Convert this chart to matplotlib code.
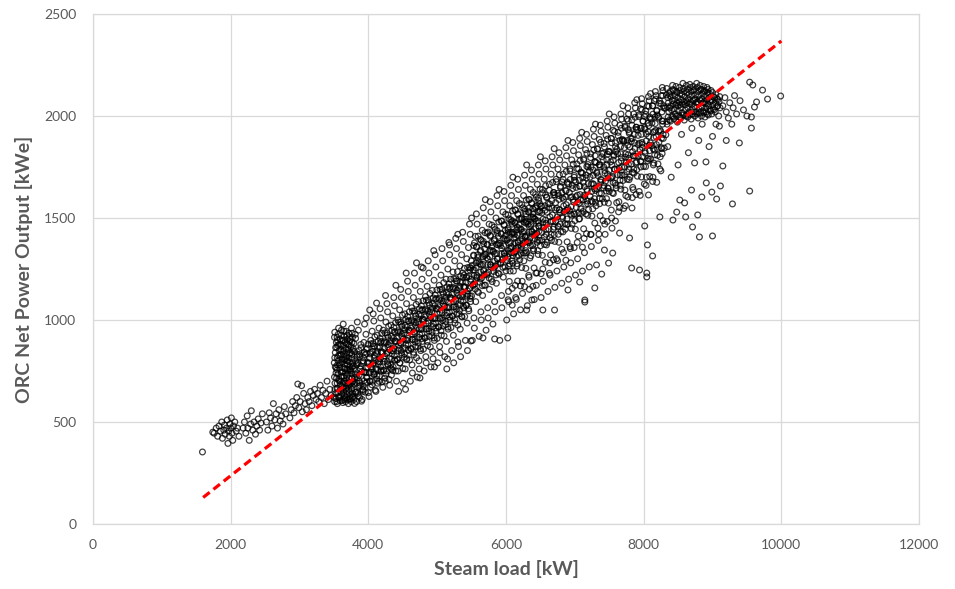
import matplotlib
matplotlib.use("Agg")
import matplotlib.pyplot as plt

# ---------------- data ----------------
x_ticks = [0, 2000, 4000, 6000, 8000, 10000, 12000]
y_ticks = [0, 500, 1000, 1500, 2000, 2500]
x_label = "Steam load [kW]"
y_label = "ORC Net Power Output [kWe]"

# linear fit (red dashed line)
fit_x = [1600, 10000]
fit_y = [130, 2368]

# sparse low-load points
low_load = [(1590,353),
 (1740,450),(1760,445),(1790,470),(1810,430),(1830,480),(1850,455),(1870,500),(1880,420),(1900,460),
 (1910,485),(1920,440),(1940,470),(1950,510),(1960,395),(1970,455),(1980,430),(1990,490),(2000,470),
 (2010,520),(2020,445),(2030,410),(2040,480),(2060,500),(2080,455),(2100,470),(2120,430),
 (2180,470),(2200,500),(2220,445),(2240,530),(2250,470),(2270,410),(2290,490),(2300,555),(2320,460),
 (2340,500),(2360,440),(2380,480),(2400,515),(2420,460),(2440,495),(2460,540),
 (2520,500),(2540,460),(2560,545),(2580,520),(2600,480),(2620,590),(2640,510),(2660,540),(2680,470),
 (2700,560),(2720,505),(2740,530),(2760,490),(2780,575),(2800,540),
 (2860,520),(2880,560),(2900,600),(2920,545),(2940,580),(2960,620),(2975,686),(2990,570),(3010,600),
 (3030,678),(3040,550),(3060,640),(3080,590),(3100,560),(3120,620),(3140,600),(3160,650),(3180,580),
 (3200,630),(3220,660),(3240,610),(3260,640),(3280,600),(3300,680),(3320,620),(3340,655),(3360,590),
 (3380,640),(3400,700),(3420,610),(3440,660),(3460,630)]

# dense "wall" at ~3500-3800 kW
wall = [(3510,600),(3525,640),(3515,690),(3530,740),(3505,790),(3520,840),(3535,890),(3512,940),
 (3550,590),(3565,625),(3555,665),(3570,710),(3545,755),(3560,800),(3575,850),(3552,900),(3568,960),
 (3590,605),(3610,640),(3595,680),(3605,720),(3585,765),(3615,810),(3600,855),(3590,905),(3610,950),
 (3630,595),(3650,630),(3635,670),(3645,700),(3625,745),(3655,785),(3640,830),(3630,875),(3650,920),(3635,980),
 (3670,600),(3690,635),(3675,665),(3685,705),(3665,740),(3695,780),(3680,820),(3670,860),(3690,905),(3675,945),
 (3710,590),(3730,625),(3715,660),(3725,695),(3705,735),(3735,770),(3720,815),(3710,855),(3730,895),(3715,935),
 (3750,600),(3770,640),(3755,675),(3765,715),(3745,750),(3775,790),(3760,830),(3750,870),(3770,915),(3755,960),
 (3790,610),(3810,645),(3795,685),(3805,720),(3785,760),(3815,800),(3800,845),(3790,885),(3810,930),
 (3530,615),(3545,665),(3538,715),(3533,765),(3548,815),(3541,865),(3546,915),(3580,620),(3577,700),
 (3582,780),(3586,830),(3574,880),(3620,605),(3626,660),(3618,725),(3622,795),(3627,845),(3619,900),
 (3660,615),(3663,690),(3658,760),(3667,810),(3661,890),(3698,610),(3703,680),(3697,755),(3702,800),
 (3699,880),(3741,615),(3746,690),(3738,760),(3743,840),(3739,905),(3781,625),(3778,700),(3783,775),(3779,860),
 (3505,620),(3515,660),(3508,720),(3520,770),(3512,815),(3525,865),(3508,915),(3540,600),(3555,645),
 (3548,690),(3560,735),(3552,780),(3565,825),(3558,875),(3562,930),(3592,625),(3600,660),(3594,700),
 (3608,745),(3598,790),(3606,830),(3596,880),(3604,925),(3640,610),(3645,650),(3638,690),(3648,725),
 (3642,765),(3650,805),(3644,850),(3640,900),(3645,945),(3685,620),(3680,650),(3690,690),(3684,725),
 (3688,760),(3682,800),(3686,840),(3680,885),(3692,925),(3725,610),(3720,645),(3728,680),(3722,715),
 (3730,755),(3724,795),(3728,835),(3722,875),(3726,915),(3765,620),(3760,660),(3768,695),(3762,735),
 (3766,770),(3760,810),(3768,850),(3762,890),(3765,935)]

# main band 3800-8300 kW (wide spread)
band = [
 (3830,600),(3845,640),(3860,675),(3870,700),(3825,730),(3880,760),(3850,790),(3835,820),(3865,850),(3890,880),(3815,910),(3855,950),(3875,620),(3840,990),
 (3910,610),(3925,650),(3960,690),(3975,720),(3940,745),(3990,770),(3920,800),(3955,830),(3985,860),(3935,890),(3965,930),(3945,980),(3915,660),(3970,1010),
 (4010,625),(4030,670),(4060,700),(4085,735),(4045,760),(4075,790),(4020,815),(4065,845),(4090,870),(4035,900),(4055,945),(4080,995),(4015,740),(4070,1030),
 (4110,650),(4135,690),(4160,725),(4185,755),(4145,785),(4175,810),(4120,835),(4165,865),(4190,895),(4130,925),(4155,960),(4180,1010),(4115,760),(4170,1055),
 (4210,670),(4240,715),(4265,750),(4285,780),(4225,810),(4275,840),(4230,860),(4260,890),(4290,915),(4215,950),(4255,990),(4280,1040),(4245,700),(4270,1080),
 (4310,680),(4335,730),(4360,770),(4385,805),(4345,835),(4375,860),(4320,885),(4365,910),(4390,940),(4330,975),(4355,1020),(4380,1070),(4340,760),(4370,1110),
 (4410,700),(4435,750),(4460,790),(4485,830),(4445,860),(4475,885),(4420,910),(4465,940),(4490,970),(4430,1000),(4455,1050),(4480,1110),(4440,650),(4470,1150),
 (4510,690),(4535,760),(4560,810),(4585,850),(4545,880),(4575,910),(4520,935),(4565,965),(4590,995),(4530,1030),(4555,1080),(4580,1140),(4540,660),(4570,1190),
 (4610,700),(4635,780),(4660,830),(4685,870),(4645,905),(4675,935),(4620,960),(4665,990),(4690,1020),(4630,1060),(4655,1110),(4680,1170),(4640,740),(4670,1230),
 (4710,720),(4735,800),(4760,850),(4785,895),(4745,930),(4775,960),(4720,990),(4765,1020),(4790,1050),(4730,1090),(4755,1140),(4780,1200),(4740,760),(4770,1260),
 (4810,750),(4835,820),(4860,875),(4885,920),(4845,955),(4875,985),(4820,1015),(4865,1045),(4890,1075),(4830,1115),(4855,1165),(4880,1230),(4840,790),(4870,1290),
 (4910,770),(4935,845),(4960,900),(4985,945),(4945,980),(4975,1010),(4920,1040),(4965,1070),(4990,1105),(4930,1145),(4955,1195),(4980,1260),(4940,810),(4970,1320),
 (5010,790),(5035,870),(5060,925),(5085,970),(5045,1005),(5075,1035),(5020,1065),(5065,1095),(5090,1130),(5030,1170),(5055,1220),(5080,1290),(5040,840),(5070,1350),
 (5110,820),(5135,895),(5160,955),(5185,1000),(5145,1035),(5175,1065),(5120,1095),(5165,1125),(5190,1160),(5130,1200),(5155,1250),(5180,1320),(5140,760),(5170,1380),
 (5210,850),(5235,925),(5260,985),(5285,1030),(5245,1065),(5275,1095),(5220,1125),(5265,1155),(5290,1190),(5230,1235),(5255,1290),(5280,1350),(5240,790),(5270,1400),
 (5310,870),(5335,955),(5360,1015),(5385,1060),(5345,1095),(5375,1125),(5320,1155),(5365,1185),(5390,1220),(5330,1265),(5355,1320),(5380,1385),(5340,820),(5370,1430),
 (5410,900),(5435,985),(5460,1045),(5485,1090),(5445,1125),(5475,1155),(5420,1185),(5465,1215),(5490,1255),(5430,1300),(5455,1355),(5480,1420),(5440,850),(5470,1470),
 (5510,900),(5535,1010),(5560,1090),(5585,1140),(5545,1175),(5575,1210),(5520,1245),(5565,1280),(5590,1320),(5530,1365),(5555,1410),(5580,1470),(5540,960),(5570,1520),
 (5610,920),(5635,1040),(5660,1120),(5685,1170),(5645,1205),(5675,1240),(5620,1275),(5665,1310),(5690,1350),(5630,1395),(5655,1440),(5680,1500),(5640,1000),(5670,1550),
 (5710,950),(5735,1060),(5760,1150),(5785,1200),(5745,1235),(5775,1270),(5720,1305),(5765,1340),(5790,1380),(5730,1425),(5755,1470),(5780,1530),(5740,1010),(5770,1580),
 (5810,980),(5835,1090),(5860,1180),(5885,1230),(5845,1265),(5875,1300),(5820,1335),(5865,1370),(5890,1410),(5830,1455),(5855,1500),(5880,1560),(5840,1040),(5870,1610),
 (5910,900),(5935,1120),(5960,1210),(5985,1260),(5945,1295),(5975,1330),(5920,1365),(5965,1400),(5990,1440),(5930,1485),(5955,1530),(5980,1585),(5940,1060),(5970,1630),
 (6010,1000),(6035,1140),(6060,1240),(6085,1290),(6045,1325),(6075,1360),(6020,1395),(6065,1430),(6090,1470),(6030,1515),(6055,1560),(6080,1610),(6040,1090),(6070,1660),
 (6110,1030),(6135,1170),(6160,1265),(6185,1315),(6145,1350),(6175,1385),(6120,1420),(6165,1455),(6190,1495),(6130,1540),(6155,1585),(6180,1640),(6140,1110),(6170,1690),
 (6210,1050),(6235,1190),(6260,1290),(6285,1340),(6245,1375),(6275,1410),(6220,1445),(6265,1480),(6290,1520),(6230,1565),(6255,1610),(6280,1660),(6240,1130),(6270,1710),
 (6310,1070),(6335,1210),(6360,1315),(6385,1365),(6345,1400),(6375,1435),(6320,1470),(6365,1505),(6390,1545),(6330,1590),(6355,1640),(6380,1690),(6340,1150),(6370,1735),
 (6410,1100),(6435,1230),(6460,1340),(6485,1390),(6445,1425),(6475,1460),(6420,1495),(6465,1530),(6490,1570),(6430,1615),(6455,1665),(6480,1715),(6440,1170),(6470,1760),
 (6510,1110),(6535,1250),(6560,1370),(6585,1420),(6545,1455),(6575,1490),(6520,1525),(6565,1560),(6590,1600),(6530,1640),(6555,1690),(6580,1740),(6540,1190),(6570,1780),
 (6610,1140),(6635,1280),(6660,1390),(6685,1445),(6645,1480),(6675,1515),(6620,1550),(6665,1585),(6690,1625),(6630,1665),(6655,1715),(6680,1760),(6640,1220),(6670,1800),
 (6710,1160),(6735,1300),(6760,1420),(6785,1470),(6745,1505),(6775,1540),(6720,1575),(6765,1610),(6790,1650),(6730,1690),(6755,1740),(6780,1785),(6740,1240),(6770,1820),
 (6810,1180),(6835,1330),(6860,1445),(6885,1495),(6845,1530),(6875,1565),(6820,1600),(6865,1635),(6890,1675),(6830,1715),(6855,1760),(6880,1805),(6840,1260),(6870,1845),
 (6910,1200),(6935,1350),(6960,1470),(6985,1520),(6945,1555),(6975,1590),(6920,1625),(6965,1660),(6990,1700),(6930,1740),(6955,1785),(6980,1830),(6940,1280),(6970,1870),
 (7010,1220),(7035,1380),(7060,1495),(7085,1545),(7045,1580),(7075,1615),(7020,1650),(7065,1685),(7090,1725),(7030,1765),(7055,1810),(7080,1855),(7040,1300),(7070,1890),
 (7110,1240),(7135,1400),(7160,1520),(7185,1570),(7145,1605),(7175,1640),(7120,1675),(7165,1710),(7190,1750),(7130,1790),(7155,1835),(7180,1875),(7140,1330),(7170,1910),
 (7210,1260),(7235,1420),(7260,1545),(7285,1595),(7245,1630),(7275,1665),(7220,1700),(7265,1735),(7290,1775),(7230,1815),(7255,1860),(7280,1900),(7240,1360),(7270,1935),
 (7315,1270),(7335,1450),(7360,1570),(7385,1620),(7345,1655),(7375,1690),(7320,1725),(7365,1760),(7390,1800),(7330,1840),(7355,1885),(7380,1925),(7340,1390),(7370,1955),
 (7430,1343),(7435,1470),(7460,1595),(7485,1645),(7445,1680),(7475,1715),(7420,1750),(7465,1785),(7490,1825),(7425,1865),(7455,1905),(7480,1945),(7440,1420),(7470,1975),
 (7550,1328),(7535,1500),(7560,1620),(7585,1670),(7545,1705),(7575,1740),(7520,1775),(7565,1810),(7590,1850),(7530,1890),(7555,1930),(7580,1965),(7540,1450),(7570,1995),
 (7650,1426),(7635,1530),(7660,1660),(7685,1710),(7645,1745),(7675,1780),(7620,1815),(7665,1850),(7690,1885),(7630,1920),(7655,1955),(7680,1985),(7640,1580),(7670,2010),
 (7795,1402),(7735,1560),(7760,1690),(7785,1740),(7745,1775),(7775,1810),(7720,1845),(7765,1880),(7790,1915),(7730,1950),(7755,1985),(7780,2010),(7740,1610),(7770,2040),
 (7825,1255),(7835,1600),(7860,1720),(7885,1770),(7845,1805),(7875,1840),(7820,1875),(7865,1910),(7890,1945),(7830,1980),(7855,2010),(7880,2040),(7840,1650),(7870,2065),
 (7940,1245),(7935,1630),(7960,1750),(7985,1800),(7945,1835),(7975,1870),(7920,1905),(7965,1940),(7990,1975),(7930,2005),(7955,2035),(7980,2060),(8015,1461),(7970,2085),
 (8045,1230),(8035,1660),(8060,1780),(8085,1830),(8055,1368),(8075,1900),(8020,1935),(8065,1965),(8090,1995),(8030,2025),(8055,2050),(8080,2075),(8040,1700),(8070,2095),
 (8130,1314),(8135,1700),(8160,1810),(8185,1860),(8145,1895),(8175,1930),(8120,1965),(8165,1995),(8190,2025),(8130,2050),(8155,2075),(8180,2100),(8140,1760),(8170,2120),
 (8235,1505),(8235,1740),(8260,1840),(8285,1890),(8245,1925),(8275,1960),(8220,1990),(8265,2020),(8290,2050),(8230,2075),(8255,2100),(8280,2125),(8240,1800),(8270,2140)]

# dense core of the band
core = [
 (3800,591),(3820,646),(3835,691),(3810,736),(3828,781),(3842,831),
 (3855,629),(3880,679),(3865,729),(3890,774),(3875,819),(3895,864),
 (3900,602),(3920,657),(3935,702),(3910,747),(3928,792),(3942,842),
 (3955,646),(3980,696),(3965,741),(3990,791),(3975,836),(3995,881),
 (4000,644),(4020,699),(4035,744),(4010,789),(4028,834),(4042,884),
 (4055,682),(4080,732),(4065,782),(4090,827),(4075,872),(4095,917),
 (4100,656),(4120,711),(4135,756),(4110,801),(4128,846),(4142,896),
 (4155,699),(4180,749),(4165,794),(4190,844),(4175,889),(4195,934),
 (4200,697),(4220,752),(4235,797),(4210,842),(4228,887),(4242,937),
 (4255,735),(4280,785),(4265,835),(4290,880),(4275,925),(4295,970),
 (4300,709),(4320,764),(4335,809),(4310,854),(4328,899),(4342,949),
 (4355,752),(4380,802),(4365,847),(4390,897),(4375,942),(4395,987),
 (4400,750),(4420,805),(4435,850),(4410,895),(4428,940),(4442,990),
 (4455,789),(4480,839),(4465,889),(4490,934),(4475,979),(4495,1024),
 (4500,762),(4520,817),(4535,862),(4510,907),(4528,952),(4542,1002),
 (4555,805),(4580,855),(4565,900),(4590,950),(4575,995),(4595,1040),
 (4600,804),(4620,859),(4635,904),(4610,949),(4628,994),(4642,1044),
 (4655,842),(4680,892),(4665,942),(4690,987),(4675,1032),(4695,1077),
 (4700,815),(4720,870),(4735,915),(4710,960),(4728,1005),(4742,1055),
 (4755,859),(4780,909),(4765,954),(4790,1004),(4775,1049),(4795,1094),
 (4800,857),(4820,912),(4835,957),(4810,1002),(4828,1047),(4842,1097),
 (4855,895),(4880,945),(4865,995),(4890,1040),(4875,1085),(4895,1130),
 (4900,868),(4920,923),(4935,968),(4910,1013),(4928,1058),(4942,1108),
 (4955,912),(4980,962),(4965,1007),(4990,1057),(4975,1102),(4995,1147),
 (5000,910),(5020,965),(5035,1010),(5010,1055),(5028,1100),(5042,1150),
 (5055,948),(5080,998),(5065,1048),(5090,1093),(5075,1138),(5095,1183),
 (5100,922),(5120,977),(5135,1022),(5110,1067),(5128,1112),(5142,1162),
 (5155,965),(5180,1015),(5165,1060),(5190,1110),(5175,1155),(5195,1200),
 (5200,963),(5220,1018),(5235,1063),(5210,1108),(5228,1153),(5242,1203),
 (5255,1002),(5280,1052),(5265,1102),(5290,1147),(5275,1192),(5295,1237),
 (5300,975),(5320,1030),(5335,1075),(5310,1120),(5328,1165),(5342,1215),
 (5355,1018),(5380,1068),(5365,1113),(5390,1163),(5375,1208),(5395,1253),
 (5400,1017),(5420,1072),(5435,1117),(5410,1162),(5428,1207),(5442,1257),
 (5455,1055),(5480,1105),(5465,1155),(5490,1200),(5475,1245),(5495,1290),
 (5500,1118),(5520,1168),(5535,1218),(5510,1268),(5528,1318),(5542,1378),
 (5555,1151),(5580,1206),(5565,1256),(5590,1306),(5575,1361),(5595,1411),
 (5600,1135),(5620,1185),(5635,1235),(5610,1285),(5628,1335),(5642,1390),
 (5655,1168),(5680,1223),(5665,1273),(5690,1323),(5675,1373),(5695,1428),
 (5700,1171),(5720,1221),(5735,1271),(5710,1321),(5728,1371),(5742,1431),
 (5755,1205),(5780,1260),(5765,1310),(5790,1360),(5775,1415),(5795,1465),
 (5800,1188),(5820,1238),(5835,1288),(5810,1338),(5828,1388),(5842,1443),
 (5855,1221),(5880,1276),(5865,1326),(5890,1376),(5875,1426),(5895,1481),
 (5900,1225),(5920,1275),(5935,1325),(5910,1375),(5928,1425),(5942,1485),
 (5955,1258),(5980,1313),(5965,1363),(5990,1413),(5975,1468),(5995,1518),
 (6000,1241),(6020,1291),(6035,1341),(6010,1391),(6028,1441),(6042,1496),
 (6055,1275),(6080,1330),(6065,1380),(6090,1430),(6075,1480),(6095,1535),
 (6100,1278),(6120,1328),(6135,1378),(6110,1428),(6128,1478),(6142,1538),
 (6155,1311),(6180,1366),(6165,1416),(6190,1466),(6175,1521),(6195,1571),
 (6200,1295),(6220,1345),(6235,1395),(6210,1445),(6228,1495),(6242,1550),
 (6255,1328),(6280,1383),(6265,1433),(6290,1483),(6275,1533),(6295,1588),
 (6300,1331),(6320,1381),(6335,1431),(6310,1481),(6328,1531),(6342,1591),
 (6355,1365),(6380,1420),(6365,1470),(6390,1520),(6375,1575),(6395,1625),
 (6400,1348),(6420,1398),(6435,1448),(6410,1498),(6428,1548),(6442,1603),
 (6455,1381),(6480,1436),(6465,1486),(6490,1536),(6475,1586),(6495,1641),
 (6500,1364),(6522,1429),(6538,1494),(6512,1559),(6530,1624),
 (6556,1408),(6582,1473),(6568,1538),(6592,1603),(6576,1658),
 (6600,1381),(6622,1446),(6638,1506),(6612,1571),(6630,1636),
 (6656,1419),(6682,1484),(6668,1549),(6692,1614),(6676,1674),
 (6700,1418),(6722,1483),(6738,1548),(6712,1613),(6730,1678),
 (6756,1461),(6782,1526),(6768,1591),(6792,1656),(6776,1711),
 (6800,1434),(6822,1499),(6838,1559),(6812,1624),(6830,1689),
 (6856,1473),(6882,1538),(6868,1603),(6892,1668),(6876,1728),
 (6900,1471),(6922,1536),(6938,1601),(6912,1666),(6930,1731),
 (6956,1514),(6982,1579),(6968,1644),(6992,1709),(6976,1764),
 (7000,1487),(7022,1552),(7038,1612),(7012,1677),(7030,1742),
 (7056,1526),(7082,1591),(7068,1656),(7092,1721),(7076,1781),
 (7100,1524),(7122,1589),(7138,1654),(7112,1719),(7130,1784),
 (7156,1567),(7182,1632),(7168,1697),(7192,1762),(7176,1817),
 (7200,1541),(7222,1606),(7238,1666),(7212,1731),(7230,1796),
 (7256,1579),(7282,1644),(7268,1709),(7292,1774),(7276,1834),
 (7300,1577),(7322,1642),(7338,1707),(7312,1772),(7330,1837),
 (7356,1621),(7382,1686),(7368,1751),(7392,1816),(7376,1871),
 (7400,1594),(7422,1659),(7438,1719),(7412,1784),(7430,1849),
 (7456,1632),(7482,1697),(7468,1762),(7492,1827),(7476,1887),
 (7500,1630),(7522,1695),(7538,1760),(7512,1825),(7530,1890),
 (7556,1674),(7582,1739),(7568,1804),(7592,1869),(7576,1924),
 (7600,1647),(7622,1712),(7638,1772),(7612,1837),(7630,1902),
 (7656,1685),(7682,1750),(7668,1815),(7692,1880),(7676,1940),
 (7700,1684),(7722,1749),(7738,1814),(7712,1879),(7730,1944),
 (7756,1727),(7782,1792),(7768,1857),(7792,1922),(7776,1977),
 (7800,1700),(7822,1765),(7838,1825),(7812,1890),(7830,1955),
 (7856,1739),(7882,1804),(7868,1869),(7892,1934),(7876,1994),
 (7900,1737),(7922,1802),(7938,1867),(7912,1932),(7930,1997),
 (7956,1780),(7982,1845),(7968,1910),(7992,1975),(7976,2030),
 (8000,1753),(8022,1818),(8038,1878),(8012,1943),(8030,2008),
 (8056,1792),(8082,1857),(8068,1922),(8092,1987),(8076,2047),
 (8100,1790),(8122,1855),(8138,1920),(8112,1985),(8130,2050),
 (8156,1833),(8182,1898),(8168,1963),(8192,2028),(8176,2083),
 (8200,1807),(8222,1872),(8238,1932),(8212,1997),(8230,2062),
 (8256,1845),(8282,1910),(8268,1975),(8292,2040),(8276,2100),
 (8300,1843),(8322,1908),(8338,1973),(8312,2038),(8330,2103)]

# second layer of the core, close to the fit line
core_inner = [
 (3825,647),(3839,717),(3832,787),(3878,691),(3887,761),(3870,831),
 (3925,674),(3939,744),(3932,814),(3978,717),(3987,787),(3970,857),
 (4025,701),(4039,771),(4032,841),(4078,744),(4087,814),(4070,884),
 (4125,727),(4139,797),(4132,867),(4178,770),(4187,840),(4170,910),
 (4225,754),(4239,824),(4232,894),(4278,797),(4287,867),(4270,937),
 (4325,780),(4339,850),(4332,920),(4378,824),(4387,894),(4370,964),
 (4425,807),(4439,877),(4432,947),(4478,850),(4487,920),(4470,990),
 (4525,834),(4539,904),(4532,974),(4578,877),(4587,947),(4570,1017),
 (4625,860),(4639,930),(4632,1000),(4678,904),(4687,974),(4670,1044),
 (4725,887),(4739,957),(4732,1027),(4778,930),(4787,1000),(4770,1070),
 (4825,913),(4839,983),(4832,1053),(4878,957),(4887,1027),(4870,1097),
 (4925,940),(4939,1010),(4932,1080),(4978,983),(4987,1053),(4970,1123),
 (5025,967),(5039,1037),(5032,1107),(5078,1010),(5087,1080),(5070,1150),
 (5125,993),(5139,1063),(5132,1133),(5178,1037),(5187,1107),(5170,1177),
 (5225,1020),(5239,1090),(5232,1160),(5278,1063),(5287,1133),(5270,1203),
 (5325,1047),(5339,1117),(5332,1187),(5378,1090),(5387,1160),(5370,1230),
 (5425,1073),(5439,1143),(5432,1213),(5478,1117),(5487,1187),(5470,1257),
 (5525,1175),(5539,1245),(5532,1315),(5578,1218),(5587,1288),(5570,1358),
 (5625,1201),(5639,1271),(5632,1341),(5678,1245),(5687,1315),(5670,1385),
 (5725,1228),(5739,1298),(5732,1368),(5778,1271),(5787,1341),(5770,1411),
 (5825,1255),(5839,1325),(5832,1395),(5878,1298),(5887,1368),(5870,1438),
 (5925,1281),(5939,1351),(5932,1421),(5978,1325),(5987,1395),(5970,1465),
 (6025,1308),(6039,1378),(6032,1448),(6078,1351),(6087,1421),(6070,1491),
 (6125,1335),(6139,1405),(6132,1475),(6178,1378),(6187,1448),(6170,1518),
 (6225,1361),(6239,1431),(6232,1501),(6278,1405),(6287,1475),(6270,1545),
 (6325,1388),(6339,1458),(6332,1528),(6378,1431),(6387,1501),(6370,1571),
 (6425,1415),(6439,1485),(6432,1555),(6478,1458),(6487,1528),(6470,1598)]

# looser mesh of points in the upper-load half of the band
mesh = [
 (6030,1099),(6048,1189),(6039,1264),(6057,1349),(6034,1429),
 (6090,1155),(6108,1240),(6099,1315),(6117,1400),(6094,1485),
 (6150,1101),(6168,1191),(6159,1276),(6177,1356),(6154,1441),
 (6210,1167),(6228,1257),(6219,1327),(6237,1412),(6214,1497),
 (6270,1163),(6288,1253),(6279,1328),(6297,1413),(6274,1493),
 (6330,1219),(6348,1304),(6339,1379),(6357,1464),(6334,1549),
 (6390,1165),(6408,1255),(6399,1340),(6417,1420),(6394,1505),
 (6450,1231),(6468,1321),(6459,1391),(6477,1476),(6454,1561),
 (6510,1227),(6528,1317),(6519,1392),(6537,1477),(6514,1557),
 (6570,1283),(6588,1368),(6579,1443),(6597,1528),(6574,1613),
 (6630,1229),(6648,1319),(6639,1404),(6657,1484),(6634,1569),
 (6690,1295),(6708,1385),(6699,1455),(6717,1540),(6694,1625),
 (6750,1291),(6768,1381),(6759,1456),(6777,1541),(6754,1621),
 (6810,1347),(6828,1432),(6819,1507),(6837,1592),(6814,1677),
 (6870,1293),(6888,1383),(6879,1468),(6897,1548),(6874,1633),
 (6930,1359),(6948,1449),(6939,1519),(6957,1604),(6934,1689),
 (6990,1355),(7008,1445),(6999,1520),(7017,1605),(6994,1685),
 (7050,1411),(7068,1496),(7059,1571),(7077,1656),(7054,1741),
 (7110,1357),(7128,1447),(7119,1532),(7137,1612),(7114,1697),
 (7170,1423),(7188,1513),(7179,1583),(7197,1668),(7174,1753),
 (7230,1419),(7248,1509),(7239,1584),(7257,1669),(7234,1749),
 (7290,1475),(7308,1560),(7299,1635),(7317,1720),(7294,1805),
 (7350,1421),(7368,1511),(7359,1596),(7377,1676),(7354,1761),
 (7410,1487),(7428,1577),(7419,1647),(7437,1732),(7414,1817),
 (7470,1483),(7488,1573),(7479,1648),(7497,1733),(7474,1813),
 (7530,1539),(7548,1624),(7539,1699),(7557,1784),(7534,1869),
 (7590,1485),(7608,1575),(7599,1660),(7617,1740),(7594,1825),
 (7650,1551),(7668,1641),(7659,1711),(7677,1796),(7654,1881),
 (7710,1547),(7728,1637),(7719,1712),(7737,1797),(7714,1877),
 (7770,1603),(7788,1688),(7779,1763),(7797,1848),(7774,1933),
 (7830,1549),(7848,1639),(7839,1724),(7857,1804),(7834,1889),
 (7890,1615),(7908,1705),(7899,1775),(7917,1860),(7894,1945),
 (7950,1611),(7968,1701),(7959,1776),(7977,1861),(7954,1941),
 (8010,1667),(8028,1752),(8019,1827),(8037,1912),(8014,1997),
 (8070,1613),(8088,1703),(8079,1788),(8097,1868),(8074,1953),
 (8130,1679),(8148,1769),(8139,1839),(8157,1924),(8134,2009),
 (8190,1675),(8208,1765),(8199,1840),(8217,1925),(8194,2005),
 (8250,1731),(8268,1816),(8259,1891),(8277,1976),(8254,2061)]

# upper and lower fringe of the band
fringe = [(4020,1049),(4120,1083),(4250,1120),(4400,1170),(4550,1230),(4795,1255),(4700,1280),(4950,1340),
 (5180,1368),(5300,1420),(5500,1500),(5700,1590),(5900,1640),(6100,1700),(6300,1760),(6500,1800),(6700,1840),
 (6900,1880),(7100,1920),(7300,1960),(7500,2010),(7700,2050),(7900,2080),(8100,2110),
 (6025,912),(5835,907),(5665,912),(5490,897),(5300,892),(5150,809),(4960,770),(4750,716),(6090,1073),
 (6300,1049),(6535,1049),(6705,1049),(6375,1098),(7145,1098),(7070,1186),(7290,1157),(7390,1225),
 (7145,1088),(6900,1147),(7490,1279),(8045,1211)]

# dense cluster at ~8300-9100 kW
top_cluster = [
 (8340,1960),(8355,1995),(8365,2020),(8345,2045),(8360,2065),(8350,2090),(8370,2110),(8335,2135),
 (8390,1975),(8410,2000),(8405,2030),(8395,2050),(8415,2075),(8400,2095),(8385,2120),(8420,2150),
 (8440,1985),(8460,2010),(8445,2035),(8465,2055),(8450,2080),(8455,2100),(8435,2125),(8470,2145),
 (8490,1970),(8510,2005),(8505,2025),(8495,2050),(8515,2070),(8500,2090),(8485,2115),(8520,2140),
 (8540,1990),(8560,2015),(8545,2040),(8565,2060),(8550,2080),(8555,2105),(8535,2125),(8570,2160),
 (8590,1980),(8610,2000),(8605,2030),(8595,2055),(8615,2075),(8600,2095),(8585,2120),(8620,2150),
 (8640,1995),(8660,2020),(8645,2040),(8665,2060),(8650,2085),(8655,2105),(8635,2130),(8670,2155),
 (8690,1985),(8710,2010),(8705,2035),(8695,2055),(8715,2075),(8700,2100),(8685,2120),(8720,2145),
 (8740,2000),(8760,2020),(8745,2045),(8765,2065),(8750,2085),(8755,2105),(8735,2130),(8770,2160),
 (8790,1990),(8810,2015),(8805,2035),(8795,2060),(8815,2080),(8800,2100),(8785,2120),(8820,2150),
 (8840,2000),(8860,2025),(8845,2045),(8865,2065),(8850,2085),(8855,2110),(8835,2130),(8870,2145),
 (8890,1995),(8910,2020),(8905,2040),(8895,2060),(8915,2080),(8900,2100),(8885,2125),(8920,2140),
 (8940,2005),(8960,2030),(8945,2050),(8965,2070),(8950,2090),(8955,2110),(8935,2130),
 (8990,2010),(9010,2035),(9005,2055),(8995,2075),(9015,2095),(9000,2115),
 (9040,2020),(9060,2045),(9045,2065),(9065,2085),(9050,2105),
 (9090,2000),(9110,2040),(9095,2070),(9105,2095),
 (8375,1980),(8380,2040),(8378,2100),(8425,1995),(8430,2060),(8428,2130),(8475,2000),(8480,2065),
 (8478,2120),(8525,1995),(8530,2055),(8528,2110),(8575,2005),(8580,2070),(8578,2135),(8625,2010),
 (8630,2065),(8628,2115),(8675,2005),(8680,2070),(8678,2140),(8725,2020),(8730,2080),(8728,2125),
 (8775,2010),(8780,2070),(8778,2140),(8825,2020),(8830,2075),(8828,2130),(8875,2015),(8880,2070),
 (8878,2120),(8925,2010),(8930,2060),(8928,2115),(8975,2025),(8980,2080),(8978,2125),(9025,2030),
 (9030,2090),(9075,2050),(9080,2080)]

# high-load tail and scattered outliers
high_tail = [(9150,2050),(9200,2020),(9180,2090),(9250,2065),(9230,1990),(9300,2040),(9320,2100),(9280,1960),
 (9350,2010),(9400,2075),(9390,1868),(9450,2030),(9540,2166),(9585,2152),(9727,2127),(9800,2083),(9990,2098),
 (9640,2069),(9610,2044),(9565,1995),(9565,1941),(9500,2000),(9150,1755),(8910,1672),(9115,1657),(8990,1627),
 (8845,1603),(9540,1632),(9290,1569),(9060,1593),(8785,1515),(8610,1505),(8425,1490),(8710,1456),(8810,1407),
 (9000,1412),(8480,1529),(8595,1574),(8525,1588),(8695,1637),(8905,1775),(8740,1770),(9000,1900),(9100,1950),
 (9200,1880),(8950,1850),(8800,1880),(8650,1820),(8500,1760),(8400,1700),(8350,1850),(8550,1910),(8700,1940),
 (8850,1960),(9050,1960)]

# ---------------- plot ----------------
plt.rcParams['font.family'] = ['Lato', 'DejaVu Sans']

fig = plt.figure(figsize=(9.55, 5.89), dpi=100)
ax = fig.add_axes([0.0974, 0.1104, 0.8649, 0.8658])

all_pts = low_load + wall + band + core + core_inner + mesh + fringe + top_cluster + high_tail
xs = [p[0] for p in all_pts]
ys = [p[1] for p in all_pts]

ax.scatter(xs, ys, s=17, facecolors='none', edgecolors=(0, 0, 0, 0.75),
           linewidths=0.9, zorder=2)

ax.plot(fit_x, fit_y, color='#ff0000', linewidth=2.3, linestyle=(0, (2.6, 1.5)),
        zorder=3, dash_capstyle='butt')

ax.set_xlim(0, 12000)
ax.set_ylim(0, 2500)
ax.set_xticks(x_ticks)
ax.set_yticks(y_ticks)
ax.set_xticklabels([str(v) for v in x_ticks])
ax.set_yticklabels([str(v) for v in y_ticks])
ax.grid(True, color='#d9d9d9', linewidth=0.9, zorder=0)
ax.set_axisbelow(True)
for sp in ax.spines.values():
    sp.set_color('#d9d9d9')
    sp.set_linewidth(0.9)
ax.tick_params(axis='both', length=0, labelsize=10, labelcolor='#595959')
ax.tick_params(axis='x', pad=11)
ax.tick_params(axis='y', pad=12)

ax.set_xlabel(x_label, fontsize=14, fontweight='bold', color='#595959', labelpad=6)
ax.set_ylabel(y_label, fontsize=14, fontweight='bold', color='#595959', labelpad=8)

fig.savefig('out.png', dpi=100)
